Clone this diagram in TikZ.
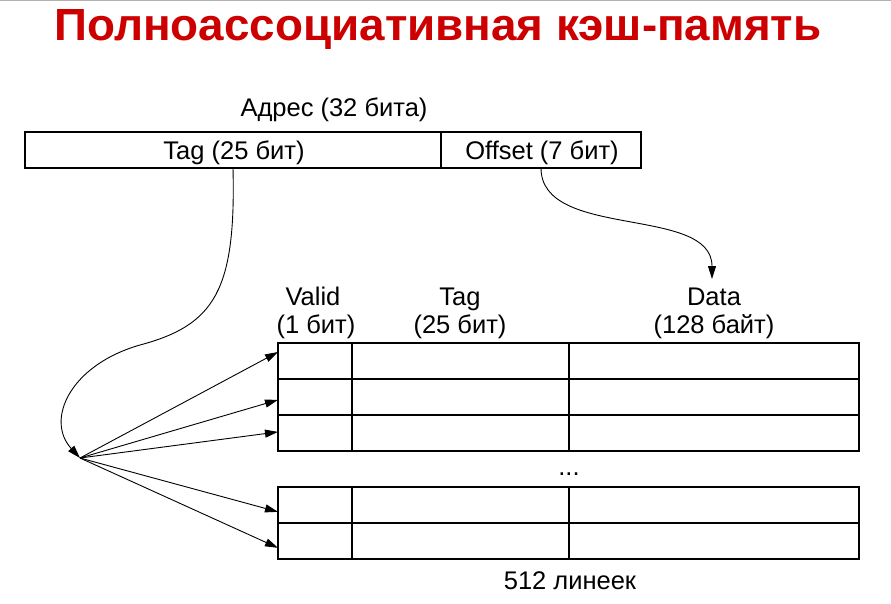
\documentclass[tikz,border=0pt]{standalone}
\usepackage{fontspec}
\setmainfont{Liberation Sans}
\usetikzlibrary{arrows.meta,calc}
\definecolor{titlered}{HTML}{CC0000}
\begin{document}
\begin{tikzpicture}[x=1pt,y=-1pt,
  lbl/.style={inner sep=0pt,anchor=base,font=\fontsize{25.5}{30}\selectfont},
  cell/.style={draw,line width=1.2pt,inner sep=0pt,outer sep=0pt,minimum height=36pt},
  vcell/.style={cell,minimum width=74pt},
  tcell/.style={cell,minimum width=217pt},
  dcell/.style={cell,minimum width=290pt},
  conn/.style={line width=0.9pt,-{Triangle[length=13pt,width=8pt]}}]
\useasboundingbox (0,0) rectangle (891,604);
\draw[gray!60,line width=1.5pt] (0,0.75) -- (891,0.75);
% title
\node[inner sep=0pt,anchor=base,text=titlered] (title) at (438,41)
  {\resizebox{767pt}{31pt}{\bfseries Полноассоциативная кэш-память}};
% address
\node[lbl] (addr) at (334,117) {Адрес (32 бита)};
\node[cell,minimum width=416pt,minimum height=36pt] (tagf) at (233,150) {};
\node[cell,minimum width=200pt,minimum height=36pt] (offf) at (541,150) {};
\node[lbl] (tagt) at (234,160) {Tag (25 бит)};
\node[lbl] (offt) at (542,160) {Offset (7 бит)};
% headers
\node[lbl] (h1a) at (313,305) {Valid};
\node[lbl] (h1b) at (316,333) {(1 бит)};
\node[lbl] (h2a) at (460,305) {Tag};
\node[lbl] (h2b) at (460,333) {(25 бит)};
\node[lbl] (h3a) at (714,305) {Data};
\node[lbl] (h3b) at (714,333) {(128 байт)};
% rows
\foreach \n/\y in {1/361,2/397,3/433,4/505,5/541}{
  \node[vcell] (r\n v) at (315,\y) {};
  \node[tcell] (r\n t) at (460.5,\y) {};
  \node[dcell] (r\n d) at (714,\y) {};
}
\node[lbl] (dots) at (569,475) {...};
\node[lbl] (cnt) at (570,589) {512 линеек};
% arrows
\coordinate (fan) at (80,458);
\coordinate (dtip) at (712,279);
\draw[conn] (offf.south) .. controls (541,240) and (712,205) .. (dtip);
\draw[conn] (tagf.south) .. controls (236,290) and (215,325) .. (140,345)
   .. controls (70,365) and (45,420) .. (fan);
\draw[conn] (fan) -- ($(r1v.north west)!0.25!(r1v.south west)$);
\draw[conn] (fan) -- ($(r2v.north west)!0.58!(r2v.south west)$);
\draw[conn] (fan) -- ($(r3v.north west)!0.47!(r3v.south west)$);
\draw[conn] (fan) -- ($(r4v.north west)!0.69!(r4v.south west)$);
\draw[conn] (fan) -- ($(r5v.north west)!0.69!(r5v.south west)$);
\end{tikzpicture}
\end{document}
